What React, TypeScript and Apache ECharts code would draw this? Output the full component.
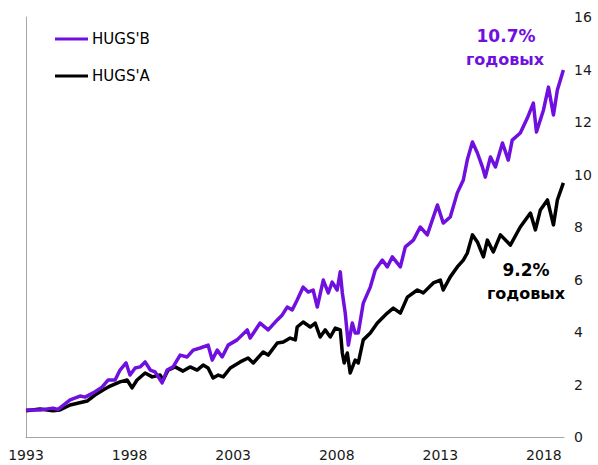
import React, { useEffect, useRef } from "react";
import * as echarts from "echarts";

// x: fractional year, y: growth of 1 unit invested
const hugsBYears = [
  1993.0, 1993.68, 1994.3, 1994.55, 1995.13, 1995.61, 1995.85, 1996.24, 1996.67, 1996.96,
  1997.3, 1997.54, 1997.83, 1998.02, 1998.27, 1998.51, 1998.75, 1999.0, 1999.23, 1999.57,
  1999.81, 2000.1, 2000.44, 2000.78, 2001.07, 2001.41, 2001.79, 2001.99, 2002.23, 2002.47,
  2002.76, 2003.19, 2003.68, 2003.82, 2004.3, 2004.69, 2005.13, 2005.37, 2005.61, 2005.85,
  2006.09, 2006.38, 2006.62, 2006.86, 2007.06, 2007.35, 2007.59, 2007.78, 2008.02, 2008.17,
  2008.27, 2008.41, 2008.56, 2008.75, 2008.89, 2009.04, 2009.28, 2009.62, 2009.86, 2010.2,
  2010.44, 2010.68, 2011.07, 2011.31, 2011.7, 2012.03, 2012.37, 2012.86, 2013.14, 2013.48,
  2013.82, 2014.11, 2014.3, 2014.55, 2014.79, 2015.03, 2015.17, 2015.42, 2015.66, 2016.0,
  2016.28, 2016.47, 2016.86, 2017.2, 2017.49, 2017.64, 2017.98, 2018.22, 2018.46, 2018.65,
  2018.94,
];
const hugsBValues = [
  1.03, 1.03, 1.1, 1.05, 1.41, 1.56, 1.52, 1.68, 1.9, 2.17,
  2.17, 2.55, 2.82, 2.36, 2.63, 2.67, 2.86, 2.55, 2.48, 2.06,
  2.55, 2.67, 3.12, 3.05, 3.31, 3.39, 3.5, 2.93, 3.31, 3.05,
  3.5, 3.7, 4.08, 3.77, 4.34, 4.08, 4.46, 4.65, 4.95, 4.84,
  5.22, 5.71, 5.52, 5.6, 4.95, 5.98, 5.49, 5.9, 5.6, 6.29,
  5.49, 4.72, 3.5, 4.34, 3.96, 3.96, 5.1, 5.71, 6.36, 6.74,
  6.48, 6.86, 6.48, 7.24, 7.5, 8.0, 7.7, 8.84, 8.15, 8.38,
  9.3, 9.79, 10.55, 11.24, 10.82, 10.29, 9.9, 10.67, 10.29, 11.2,
  10.55, 11.31, 11.58, 12.15, 12.72, 11.62, 12.46, 13.33, 12.27, 13.22,
  13.98,
];

const hugsAYears = [
  1993.0, 1993.68, 1994.3, 1994.64, 1995.13, 1995.95, 1996.33, 1996.72, 1997.06, 1997.54,
  1997.88, 1998.12, 1998.36, 1998.75, 1999.09, 1999.47, 1999.62, 1999.86, 2000.2, 2000.58,
  2000.92, 2001.26, 2001.55, 2001.79, 2002.03, 2002.28, 2002.52, 2002.86, 2003.34, 2003.72,
  2003.97, 2004.45, 2004.69, 2005.13, 2005.42, 2005.75, 2006.0, 2006.09, 2006.38, 2006.72,
  2006.96, 2007.2, 2007.44, 2007.69, 2007.93, 2008.17, 2008.27, 2008.36, 2008.51, 2008.65,
  2008.89, 2009.04, 2009.28, 2009.62, 2009.96, 2010.44, 2010.73, 2011.07, 2011.41, 2011.89,
  2012.18, 2012.66, 2013.0, 2013.14, 2013.48, 2013.82, 2014.11, 2014.3, 2014.55, 2014.79,
  2015.08, 2015.27, 2015.56, 2015.9, 2016.24, 2016.38, 2016.86, 2017.35, 2017.59, 2017.83,
  2018.17, 2018.46, 2018.65, 2018.94,
];
const hugsAValues = [
  1.0, 1.07, 1.0, 1.03, 1.22, 1.37, 1.6, 1.79, 1.94, 2.1,
  2.17, 1.87, 2.17, 2.44, 2.29, 2.36, 2.17, 2.55, 2.67, 2.51,
  2.67, 2.55, 2.74, 2.63, 2.25, 2.36, 2.29, 2.63, 2.86, 3.01,
  2.82, 3.24, 3.12, 3.58, 3.62, 3.77, 3.7, 4.19, 4.38, 4.19,
  4.34, 3.81, 4.08, 3.81, 4.15, 4.08, 3.2, 2.82, 3.2, 2.44,
  2.93, 2.82, 3.7, 3.96, 4.34, 4.72, 4.91, 4.72, 5.33, 5.6,
  5.49, 5.87, 5.98, 5.6, 6.1, 6.48, 6.74, 7.0, 7.7, 7.43,
  6.86, 7.5, 7.05, 7.7, 7.43, 7.31, 8.0, 8.53, 7.89, 8.65,
  9.03, 8.08, 9.03, 9.68,
];

const seriesNames = ["HUGS'B", "HUGS'A"];
const annotationB = ["10.7%", "годовых"];
const annotationA = ["9.2%", "годовых"];

const PURPLE = "#7010DF";
const BLACK = "#000000";
const FONT = "DejaVu Sans";

export default function App() {
  const ref = useRef<HTMLDivElement>(null);

  useEffect(() => {
    if (!ref.current) return;
    const chart = echarts.init(ref.current, undefined, { renderer: "svg" });
    const zip = (xs: number[], ys: number[]) => xs.map((x, i) => [x, ys[i]]);

    chart.setOption({
      animation: false,
      backgroundColor: "#ffffff",
      grid: { left: 26, right: 34, top: 17, bottom: 28, containLabel: false },
      xAxis: {
        type: "value",
        min: 1993,
        max: 2018.97,
        interval: 5,
        axisLine: { show: true, lineStyle: { color: "#a6a6a6", width: 1 } },
        axisTick: { show: false },
        splitLine: { show: false },
        axisLabel: {
          showMaxLabel: false,
          margin: 11,
          fontFamily: FONT,
          fontSize: 14,
          color: "#1a1a1a",
          formatter: (v: number) => (Number.isInteger(v) ? String(v) : ""),
        },
      },
      yAxis: [
        {
          type: "value",
          position: "right",
          min: 0,
          max: 16,
          interval: 2,
          axisLine: { show: false },
          axisTick: { show: false },
          splitLine: { show: false },
          axisLabel: { margin: 10, fontFamily: FONT, fontSize: 14, color: "#1a1a1a" },
        },
        {
          type: "value",
          position: "left",
          min: 0,
          max: 16,
          interval: 2,
          axisLine: { show: true, lineStyle: { color: "#a6a6a6", width: 1 } },
          axisTick: { show: false },
          splitLine: { show: false },
          axisLabel: { show: false },
        },
      ],
      series: [
        {
          name: seriesNames[1],
          type: "line",
          yAxisIndex: 0,
          data: zip(hugsAYears, hugsAValues),
          showSymbol: false,
          lineStyle: { color: BLACK, width: 3.5, join: "round" },
          itemStyle: { color: BLACK },
          z: 2,
        },
        {
          name: seriesNames[0],
          type: "line",
          yAxisIndex: 0,
          data: zip(hugsBYears, hugsBValues),
          showSymbol: false,
          lineStyle: { color: PURPLE, width: 3.5, join: "round" },
          itemStyle: { color: PURPLE },
          z: 3,
        },
      ],
      graphic: [
        { type: "line", shape: { x1: 55, y1: 39, x2: 88, y2: 39 }, style: { stroke: PURPLE, lineWidth: 3 } },
        {
          type: "text", x: 92, y: 39,
          style: { text: seriesNames[0], fontFamily: FONT, fontSize: 15, fill: "#000", verticalAlign: "middle", align: "left" },
        },
        { type: "line", shape: { x1: 55, y1: 76, x2: 88, y2: 76 }, style: { stroke: BLACK, lineWidth: 3 } },
        {
          type: "text", x: 92, y: 76,
          style: { text: seriesNames[1], fontFamily: FONT, fontSize: 15, fill: "#000", verticalAlign: "middle", align: "left" },
        },
        {
          type: "text", x: 506, y: 36,
          style: { text: annotationB[0], fontFamily: FONT, fontWeight: "bold", fontSize: 17, fill: PURPLE, align: "center", verticalAlign: "middle" },
        },
        {
          type: "text", x: 505, y: 59,
          style: { text: annotationB[1], fontFamily: FONT, fontWeight: "bold", fontSize: 16, fill: PURPLE, align: "center", verticalAlign: "middle" },
        },
        {
          type: "text", x: 526, y: 270,
          style: { text: annotationA[0], fontFamily: FONT, fontWeight: "bold", fontSize: 17, fill: BLACK, align: "center", verticalAlign: "middle" },
        },
        {
          type: "text", x: 526, y: 293,
          style: { text: annotationA[1], fontFamily: FONT, fontWeight: "bold", fontSize: 16, fill: BLACK, align: "center", verticalAlign: "middle" },
        },
      ],
    });

    return () => chart.dispose();
  }, []);

  return (
    <div
      ref={ref}
      style={{ position: "fixed", left: 0, top: 0, width: 598, height: 465, background: "#fff" }}
    />
  );
}
